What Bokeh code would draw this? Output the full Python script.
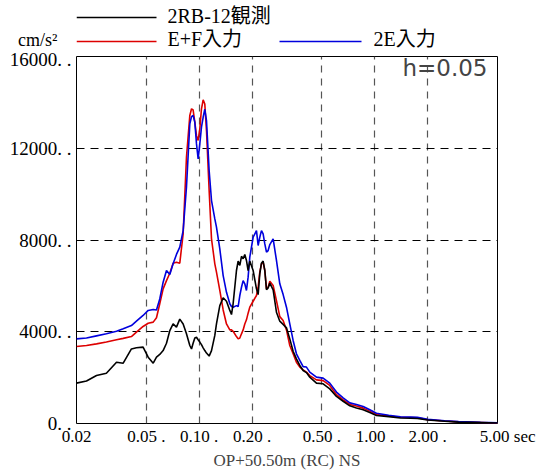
from bokeh.plotting import figure
from bokeh.layouts import column
from bokeh.models import Range1d, FixedTicker, Label
from bokeh.core.properties import value
from bokeh.embed import file_html
from bokeh.resources import INLINE

# Period (sec)
period = [0.0200, 0.0228, 0.0260, 0.0296, 0.0338, 0.0369, 0.0411, 0.0439, 0.0479, 0.0512,
          0.0547, 0.0571, 0.0596, 0.0623, 0.0651, 0.0680, 0.0710, 0.0742, 0.0775, 0.0810,
          0.0846, 0.0884, 0.0904, 0.0923, 0.0944, 0.0965, 0.0986, 0.1008, 0.1030, 0.1053,
          0.1076, 0.1100, 0.1139, 0.1175, 0.1227, 0.1254, 0.1310, 0.1369, 0.1430, 0.1494,
          0.1527, 0.1560, 0.1630, 0.1666, 0.1703, 0.1741, 0.1779, 0.1818, 0.1858, 0.1899,
          0.1941, 0.2028, 0.2119, 0.2166, 0.2213, 0.2262, 0.2312, 0.2364, 0.2416, 0.2469,
          0.2524, 0.2637, 0.2754, 0.2877, 0.3006, 0.3140, 0.3280, 0.3427, 0.3579, 0.3740,
          0.3907, 0.4081, 0.4264, 0.4654, 0.5079, 0.5543, 0.6050, 0.6603, 0.7206, 0.7866,
          0.8585, 0.9368, 1.022,
          1.2, 1.4, 1.6, 1.75, 2.0, 2.5, 3.0, 4.0, 5.0]

# 2RB-12観測 (black)
obs_2rb12 = [1760, 1850, 2090, 2190, 2670, 2630, 3250, 3300, 3330, 2890,
             2630, 2890, 3010, 3180, 3500, 4050, 4340, 4200, 4550, 4340,
             3910, 3400, 3250, 3500, 3730, 3760, 3650, 3550, 3440, 3300,
             3180, 3070, 2940, 3180, 3840, 4340, 5140, 5480, 5330, 4930,
             4750, 5220, 6670, 7080, 6890, 7290, 7180, 7370, 7110, 6670,
             7080, 6670, 5870, 5620, 6520, 6990, 7080, 6670, 5830, 5910,
             6120, 5830, 4850, 4460, 4320, 4170, 3690, 3150, 2820, 2530,
             2310, 2220, 2020, 1760, 1730, 1510, 1180, 970, 770, 680,
             600, 480, 350,
             300, 240, 230, 220, 150, 100, 60, 40, 20]

# E+F入力 (red)
ef_input = [3360, 3400, 3470, 3550, 3650, 3710, 3790, 3980, 4230, 4370,
            4420, 4610, 5220, 5870, 6230, 6550, 6990, 7030, 6990, 8270,
            11610, 13430, 13720, 13670, 13140, 12550, 12340, 12850, 13720, 14110,
            13930, 12770, 10160, 8050, 6960, 6600, 5800, 4950, 4340, 4080,
            4080, 4020, 3790, 3690, 3730, 3910, 4080, 4340, 4520, 4810,
            5070, 5330, 5580, 5940, 6600, 6960, 7030, 6670, 5870, 5940,
            6200, 6020, 5360, 4660, 4490, 4080, 3400, 3040, 2670, 2460,
            2340, 2240, 2090, 1900, 1870, 1660, 1260, 1030, 830, 760,
            670, 540, 390,
            330, 270, 260, 250, 170, 110, 70, 45, 25]

# 2E入力 (blue)
e2_input = [3690, 3730, 3820, 3910, 4020, 4130, 4270, 4460, 4710, 4930,
            4970, 4950, 5430, 6160, 6670, 6500, 6960, 7370, 7690, 8410,
            10300, 13060, 13380, 13430, 13140, 12190, 11540, 12190, 12920, 13350,
            13700, 13210, 11030, 9720, 8920, 8560, 7610, 6450, 5720, 5220,
            5100, 5070, 5140, 5100, 5580, 5940, 6230, 6090, 5800, 6380,
            7250, 8120, 8410, 7760, 8120, 8410, 8270, 7830, 7470, 7540,
            7800, 8050, 7110, 6090, 5620, 5070, 4340, 3620, 3040, 2750,
            2480, 2460, 2240, 2020, 1980, 1760, 1370, 1120, 900, 830,
            740, 600, 450,
            360, 290, 280, 270, 180, 120, 80, 50, 30]

series_labels = ["2RB-12観測", "E+F入力", "2E入力"]
series_colors = ["black", "#dd0000", "#0000dd"]

x_ticks = [0.02, 0.05, 0.1, 0.2, 0.5, 1.0, 2.0, 5.0]
x_tick_labels = ["0.02", "0.05 .", "0.10 .", "0.20 .", "0.50 .", "1.00 .", "2.00 .",
                 "\u2002\u2002\u20095.00 sec"]
x_grid = [0.05, 0.1, 0.2, 0.5, 1.0, 2.0]
y_ticks = [0, 4000, 8000, 12000, 16000]
y_tick_labels = ["0. .", "4000. .", "8000. .", "12000. .", "16000. ."]
y_grid = [4000, 8000, 12000]
unit_label = "cm/s²"
damping_label = "h=0.05"
x_title = "OP+50.50m (RC) NS"

SERIF = "'Liberation Serif', 'Noto Sans CJK JP', serif"
LW = 1.6
W, H_TOP, H_MAIN, OVERLAP = 537, 56, 426, 8
BL, BR = 76, 40

# ---------------- header (legend keys + unit) ----------------
# header frame spans the same horizontal pixels as the chart frame; ranges are in pixels
top = figure(width=W, height=H_TOP, x_range=Range1d(BL, W - BR), y_range=Range1d(H_TOP, 0),
             x_axis_location=None, y_axis_location="left",
             output_backend="svg", toolbar_location=None,
             min_border_left=BL, min_border_right=BR, min_border_top=0, min_border_bottom=0)
top.outline_line_color = None
top.grid.visible = False
top.background_fill_alpha = 0
top.border_fill_alpha = 0
# unit label drawn as the header's single y tick label
top.yaxis.ticker = FixedTicker(ticks=[39])
top.yaxis.major_label_overrides = {39: unit_label}
top.yaxis.axis_line_color = None
top.yaxis.major_tick_line_color = None
top.yaxis.minor_tick_line_color = None
top.yaxis.major_tick_out = 0
top.yaxis.minor_tick_out = 0
top.yaxis.major_label_standoff = 19
top.yaxis.major_label_text_font = SERIF
top.yaxis.major_label_text_font_size = "18px"
top.yaxis.major_label_text_color = "black"

key_x0 = [76, 76, 279]
key_x1 = [156, 156, 361]
key_y = [17, 41, 41]
top.segment(x0=key_x0, y0=key_y, x1=key_x1, y1=key_y, line_color=series_colors, line_width=LW)
top.text(x=[167, 167, 373], y=[15, 38.5, 38.5], text=series_labels,
         text_font=value(SERIF), text_font_size="20px", text_color="black",
         text_align="left", text_baseline="middle")

# ---------------- main chart ----------------
p = figure(width=W, height=H_MAIN, x_axis_type="log",
           x_range=Range1d(0.02, 5.0), y_range=Range1d(0, 16000),
           output_backend="svg", toolbar_location=None,
           min_border_left=BL, min_border_right=BR, min_border_top=OVERLAP, min_border_bottom=51)
p.margin = (-OVERLAP, 0, 0, 0)

p.outline_line_color = "black"
p.outline_line_width = 1
p.background_fill_color = "white"
p.border_fill_alpha = 0

p.xaxis.ticker = FixedTicker(ticks=x_ticks)
p.xaxis.major_label_overrides = {t: l for t, l in zip(x_ticks, x_tick_labels)}
p.yaxis.ticker = FixedTicker(ticks=y_ticks)
p.yaxis.major_label_overrides = {t: l for t, l in zip(y_ticks, y_tick_labels)}
for ax in (p.xaxis[0], p.yaxis[0]):
    ax.axis_line_color = None
    ax.major_tick_line_color = None
    ax.minor_tick_line_color = None
    ax.major_tick_out = 0
    ax.major_tick_in = 0
    ax.minor_tick_out = 0
    ax.minor_tick_in = 0
    ax.major_label_text_font = SERIF
    ax.major_label_text_color = "black"
p.xaxis.major_label_text_font_size = "17px"
p.yaxis.major_label_text_font_size = "19px"
p.xaxis.major_label_standoff = 3
p.yaxis.major_label_standoff = 5
p.xaxis.axis_label = x_title
p.xaxis.axis_label_text_font = SERIF
p.xaxis.axis_label_text_font_size = "17px"
p.xaxis.axis_label_text_font_style = "normal"
p.xaxis.axis_label_standoff = 2

p.xgrid.ticker = FixedTicker(ticks=x_grid)
p.ygrid.ticker = FixedTicker(ticks=y_grid)
p.xgrid.grid_line_color = "#555555"
p.xgrid.grid_line_dash = "7 6"
p.xgrid.grid_line_width = 1.2
p.ygrid.grid_line_color = "black"
p.ygrid.grid_line_dash = "8 6"
p.ygrid.grid_line_width = 1

p.line(period, ef_input, line_color=series_colors[1], line_width=LW)
p.line(period, e2_input, line_color=series_colors[2], line_width=LW)
p.line(period, obs_2rb12, line_color=series_colors[0], line_width=LW)

p.add_layout(Label(x=5.0, y=16000, x_offset=-10, y_offset=-11, text=damping_label,
                   text_align="right", text_baseline="middle",
                   text_font="DejaVu Sans", text_font_size="23px"))

layout = column(top, p, spacing=0)
open("out.html", "w").write(file_html(layout, INLINE))
